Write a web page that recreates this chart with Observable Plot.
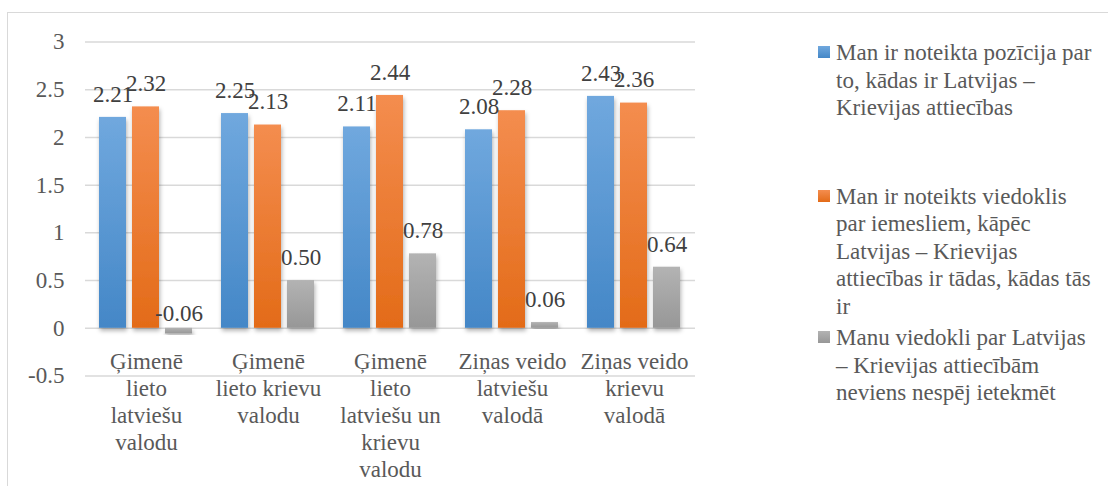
<!DOCTYPE html>
<html><head><meta charset="utf-8">
<script src="https://cdn.jsdelivr.net/npm/d3@7"></script>
<script src="https://cdn.jsdelivr.net/npm/@observablehq/plot@0.6"></script>
<style>
html,body{margin:0;padding:0;background:#fff;}
#wrap{position:relative;width:1108px;height:486px;overflow:hidden;font-family:"Liberation Serif","Tinos","Times New Roman","Noto Serif","DejaVu Serif",serif;color:#595959;}
#frame{position:absolute;left:7px;top:12px;width:1200px;height:600px;border:1.3px solid #d9d9d9;box-sizing:border-box;}
#chart{position:absolute;left:0;top:0;}
.leg{position:absolute;left:836px;font-size:23px;line-height:27.6px;white-space:pre;color:#595959;}
.sw{position:absolute;left:-18px;top:7px;width:12px;height:12px;}
svg text{font-family:"Liberation Serif","Tinos","Times New Roman","Noto Serif","DejaVu Serif",serif;}
</style></head><body>
<div id="wrap"><div id="frame"></div><div id="chart"></div><div id="legend"></div></div>
<script>
const categories = ["Ģimenē lieto latviešu valodu", "Ģimenē lieto krievu valodu", "Ģimenē lieto latviešu un krievu valodu", "Ziņas veido latviešu valodā", "Ziņas veido krievu valodā"];
const categoryLabels = ["Ģimenē\nlieto\nlatviešu\nvalodu", "Ģimenē\nlieto krievu\nvalodu", "Ģimenē\nlieto\nlatviešu un\nkrievu\nvalodu", "Ziņas veido\nlatviešu\nvalodā", "Ziņas veido\nkrievu\nvalodā"];
const series = ["Man ir noteikta pozīcija par to, kādas ir Latvijas – Krievijas attiecības",
  "Man ir noteikts viedoklis par iemesliem, kāpēc Latvijas – Krievijas attiecības ir tādas, kādas tās ir",
  "Manu viedokli par Latvijas – Krievijas attiecībām neviens nespēj ietekmēt"];
const legendLabels = ["Man ir noteikta pozīcija par\nto, kādas ir Latvijas –\nKrievijas attiecības",
  "Man ir noteikts viedoklis\npar iemesliem, kāpēc\nLatvijas – Krievijas\nattiecības ir tādas, kādas tās\nir",
  "Manu viedokli par Latvijas\n– Krievijas attiecībām\nneviens nespēj ietekmēt"];
const valuesPosition = [2.21, 2.25, 2.11, 2.08, 2.43];
const valuesReasons = [2.32, 2.13, 2.44, 2.28, 2.36];
const valuesNoInfluence = [-0.06, 0.50, 0.78, 0.06, 0.64];
const yTicks = [-0.5, 0, 0.5, 1, 1.5, 2, 2.5, 3];
const seriesGradients = [["#70a8de", "#4487c7"], ["#f48d4f", "#e36b18"], ["#b3b3b3", "#979797"]];

const seriesValues = [valuesPosition, valuesReasons, valuesNoInfluence];
const rows = categories.flatMap((c, i) => series.map((s, j) => ({category: c, series: s, value: seriesValues[j][i]})));
const catRows = categories.map((c, i) => ({category: c, label: categoryLabels[i]}));

const plot = Plot.plot({
  width: 1108, height: 486,
  marginLeft: 83, marginRight: 411, marginTop: 41.5, marginBottom: 110.5,
  style: {fontFamily: "'Liberation Serif', Tinos, 'Times New Roman', 'Noto Serif', 'DejaVu Serif', serif", fontSize: "23px", color: "#595959", background: "transparent", overflow: "visible"},
  fx: {domain: categories, padding: 0, axis: null, label: null},
  x: {domain: series, paddingInner: 0.176, paddingOuter: 0.394, axis: null},
  y: {domain: [-0.5, 3], ticks: yTicks, label: null, tickSize: 0, tickPadding: 21, tickFormat: d => String(d)},
  marks: [
    Plot.ruleY(yTicks, {stroke: "#d9d9d9", strokeWidth: 1.5}),
    ...series.map((s, j) => Plot.barY(rows.filter(r => r.series === s), {fx: "category", x: "series", y: "value", fill: `url(#grad${j})`})),
    Plot.text(rows.filter(r => r.value >= 0), {fx: "category", x: "series", y: "value", text: d => d.value.toFixed(2), dy: -23, fill: "#404040"}),
    Plot.text(rows.filter(r => r.value < 0), {fx: "category", x: "series", y: "value", text: d => d.value.toFixed(2), dy: -20, fill: "#404040"}),
    Plot.text(catRows, {fx: "category", y: () => 0, text: "label", lineAnchor: "top", dy: 22, lineHeight: 1.174, fill: "#595959"})
  ]
});

const NS = "http://www.w3.org/2000/svg";
const defs = document.createElementNS(NS, "defs");
seriesGradients.forEach((g, j) => {
  const lg = document.createElementNS(NS, "linearGradient");
  lg.setAttribute("id", `grad${j}`);
  lg.setAttribute("x1", "0"); lg.setAttribute("y1", "0"); lg.setAttribute("x2", "0"); lg.setAttribute("y2", "1");
  g.forEach((c, k) => {
    const st = document.createElementNS(NS, "stop");
    st.setAttribute("offset", k ? "1" : "0");
    st.setAttribute("stop-color", c);
    lg.appendChild(st);
  });
  defs.appendChild(lg);
});
const f = document.createElementNS(NS, "filter");
f.setAttribute("id", "shadow");
f.setAttribute("x", "-30%"); f.setAttribute("y", "-10%"); f.setAttribute("width", "160%"); f.setAttribute("height", "130%");
const ds = document.createElementNS(NS, "feDropShadow");
ds.setAttribute("dx", "1"); ds.setAttribute("dy", "3"); ds.setAttribute("stdDeviation", "2");
ds.setAttribute("flood-color", "#000"); ds.setAttribute("flood-opacity", "0.3");
f.appendChild(ds);
defs.appendChild(f);
plot.insertBefore(defs, plot.firstChild);
plot.querySelectorAll("g[aria-label='bar'] rect").forEach(r => r.setAttribute("filter", "url(#shadow)"));
document.getElementById("chart").appendChild(plot);

const legend = document.getElementById("legend");
const legTops = [39, 182.7, 324.3];
legendLabels.forEach((t, j) => {
  const d = document.createElement("div");
  d.className = "leg";
  d.style.top = legTops[j] + "px";
  d.textContent = t;
  const sw = document.createElement("div");
  sw.className = "sw";
  sw.style.background = `linear-gradient(${seriesGradients[j][0]}, ${seriesGradients[j][1]})`;
  d.appendChild(sw);
  legend.appendChild(d);
});
</script>
</body></html>
